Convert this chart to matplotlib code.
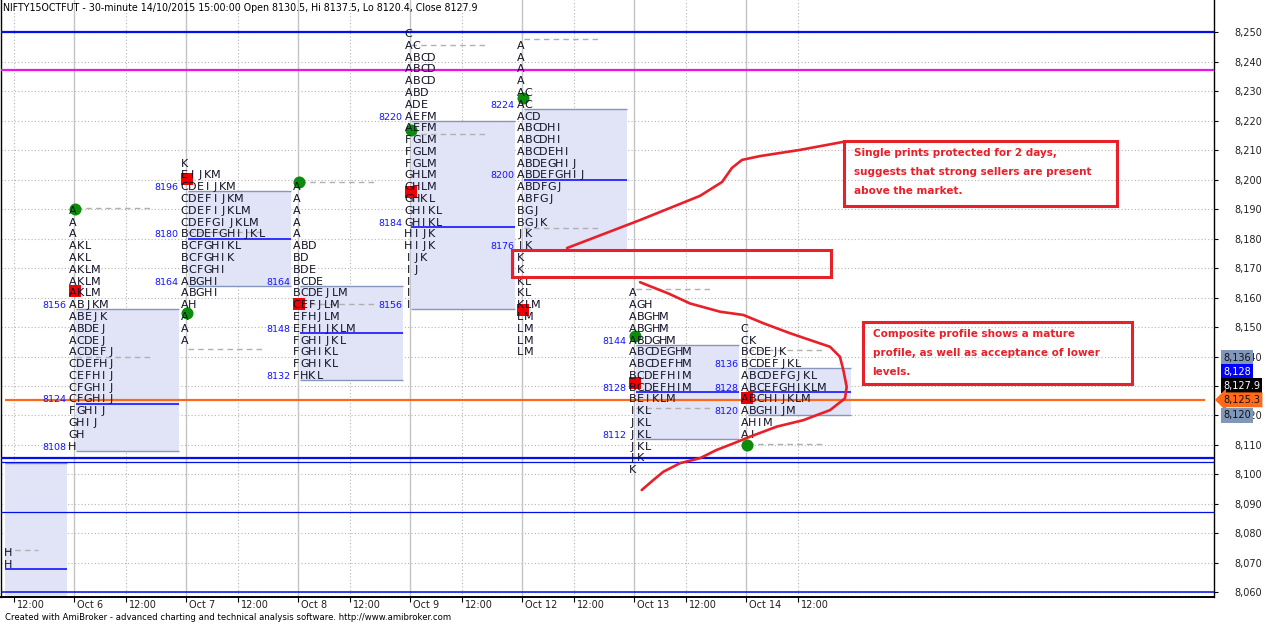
import matplotlib
matplotlib.use("Agg")
import matplotlib.pyplot as plt
import matplotlib.transforms as mtrans
from matplotlib.patches import Rectangle

W, H = 1267, 626

# trading days shown (x unit = one day, Oct 5 = 0)
days = ["Oct 5", "Oct 6", "Oct 7", "Oct 8", "Oct 9", "Oct 12", "Oct 13", "Oct 14"]

# TPO letters, one string per 4-point row, listed from the top row down
tpo_top = [8072, 8188, 8204, 8196, 8248, 8244, 8160, 8148]
tpo_oct5 = ["H", "H"]
tpo_oct6 = ["A", "A", "A", "AKL", "AKL", "AKLM", "AKLM", "AKLM", "ABJKM", "ABEJK",
            "ABDEJ", "ACDEJ", "ACDEFJ", "CDEFHJ", "CEFHIJ", "CFGHIJ", "CFGHIJ",
            "FGHIJ", "GHIJ", "GH", "H"]
tpo_oct7 = ["K", "EIJKM", "CDEIJKM", "CDEFIJKM", "CDEFIJKLM", "CDEFGIJKLM",
            "BCDEFGHIJKL", "BCFGHIKL", "BCFGHIK", "BCFGHI", "ABGHI", "ABGHI", "AH",
            "A", "A", "A"]
tpo_oct8 = ["A", "A", "A", "A", "A", "ABD", "BD", "BDE", "BCDE", "BCDEJLM", "CEFJLM",
            "EFHJLM", "EFHIJKLM", "FGHIJKL", "FGHIKL", "FGHIKL", "FHKL"]
tpo_oct9 = ["C", "AC", "ABCD", "ABCD", "ABCD", "ABD", "ADE", "AEFM", "AEFM", "FGLM",
            "FGLM", "FGLM", "GHLM", "GHLM", "GHKL", "GHIKL", "GHIKL", "HIJK", "HIJK",
            "IJK", "IJ", "I", "I", "I"]
tpo_oct12 = ["A", "A", "A", "A", "AC", "AC", "ACD", "ABCDHI", "ABCDHI", "ABCDEHI",
             "ABDEGHIJ", "ABDEFGHIJ", "ABDFGJ", "ABFGJ", "BGJ", "BGJK", "JK", "JK",
             "K", "K", "KL", "KL", "KLM", "LM", "LM", "LM", "LM"]
tpo_oct13 = ["A", "AGH", "ABGHM", "ABGHM", "ABDGHM", "ABCDEGHM", "ABCDEFHM",
             "BCDEFHIM", "BCDEFHIM", "BEIKLM", "IKL", "JKL", "JKL", "JKL", "JK", "K"]
tpo_oct14 = ["C", "CK", "BCDEJK", "BCDEFJKL", "ABCDEFGJKL", "ABCEFGHJKLM",
             "ABCHIJKLM", "ABGHIJM", "AHIM", "AI"]
tpo_rows = [tpo_oct5, tpo_oct6, tpo_oct7, tpo_oct8, tpo_oct9, tpo_oct12, tpo_oct13, tpo_oct14]

va_high = [8104, 8156, 8196, 8164, 8220, 8224, 8144, 8136]
poc = [8068, 8124, 8180, 8148, 8184, 8200, 8128, 8128]
va_low = [8040, 8108, 8164, 8132, 8156, 8176, 8112, 8120]

day_open = [None, 8190.1, 8154.6, 8199.3, 8216.8, 8227.6, 8147.0, 8110.0]
day_close = [None, 8162.3, 8200.2, 8157.7, 8195.9, 8155.8, 8130.9, 8125.8]
ref_levels = [[8074.3], [8190.4, 8139.9], [8182.3, 8142.5], [8199.3, 8157.7],
              [8245.7, 8215.4], [8247.6, 8183.5], [8162.9, 8122.6], [8142.2, 8110.2]]

blue_levels = [8250, 8105.7, 8104.2, 8087.2, 8060]
magenta_level = 8237.2
last_price = 8125.3

side_values = [8136, 8128, 8127.9, 8125.3, 8120]
side_text = ["8,136", "8,128", "8,127.9", "8,125.3", "8,120"]

note1 = ["Single prints protected for 2 days,",
         "suggests that strong sellers are present",
         "above the market."]
note2 = ["Composite profile shows a mature",
         "profile, as well as acceptance of lower",
         "levels."]

# hand drawn strokes (day, price)
stroke1_x = [5.402, 6.054, 6.589, 6.786, 6.875, 6.964, 7.125, 7.482, 7.866]
stroke1_y = [8176.8, 8186.3, 8194.5, 8199.2, 8204.0, 8206.7, 8208.0, 8210.1, 8212.8]
stroke2_x = [6.054, 6.306, 6.500, 6.768, 6.976, 7.154, 7.393, 7.571, 7.750, 7.839,
             7.869, 7.899, 7.884, 7.750, 7.512, 7.274, 7.036, 6.887, 6.738, 6.589,
             6.411, 6.262, 6.173, 6.069]
stroke2_y = [8165.2, 8161.4, 8158.0, 8155.2, 8154.1, 8151.3, 8147.9, 8145.6, 8143.3,
             8139.9, 8135.4, 8129.7, 8125.8, 8121.8, 8118.4, 8116.2, 8112.8, 8110.5,
             8108.3, 8105.5, 8103.8, 8100.9, 8098.1, 8094.7]

title = ("NIFTY15OCTFUT - 30-minute 14/10/2015 15:00:00 Open 8130.5, Hi 8137.5, "
         "Lo 8120.4, Close 8127.9")
footer = ("Created with AmiBroker - advanced charting and technical analysis software. "
          "http://www.amibroker.com")

RED = "#e8202a"
px = 1 / 112.0          # one screen pixel in day units
first_bar = 0.384       # first visible bar
pitch = 7.7 * px
xlim = (39 / 112, 1252 / 112)

fig = plt.figure(figsize=(W / 100, H / 100), dpi=100)
ax = fig.add_axes([1 / W, (H - 597) / H, 1213 / W, 597 / H])

# grid
for v in range(8060, 8251, 10):
    ax.axhline(v, color="#b4b4b4", lw=0.8, ls=(0, (1, 2)), zorder=0)
for i in range(len(days)):
    if i > 0:
        ax.axvline(i, color="#c4c4c4", lw=1, zorder=0)
    ax.axvline(i + 0.46, color="#b4b4b4", lw=0.8, ls=(0, (1, 2)), zorder=0)

# full width levels
for v, lw in zip(blue_levels, [1.6, 1.6, 0.9, 0.9, 1.1]):
    ax.axhline(v, color="#0010e8", lw=lw, zorder=4)
ax.axhline(magenta_level, color="#ee10ee", lw=1.6, zorder=4)
ax.hlines(last_price, first_bar, 1243 / 112, color="#ff6a1a", lw=1.6, zorder=4)

# profiles
for d, (top, rows) in enumerate(zip(tpo_top, tpo_rows)):
    bx0 = max(d + 1.5 * px, first_bar)
    bx1 = d + 0.935
    ax.add_patch(Rectangle((bx0, va_low[d]), bx1 - bx0, va_high[d] - va_low[d],
                           fc="#e1e3f7", ec="none", zorder=1))
    ax.hlines([va_low[d], va_high[d]], bx0, bx1, color="#8797bb", lw=1, zorder=3)
    ax.hlines(poc[d], bx0, bx1, color="#0000ff", lw=1.1, zorder=3)
    ax.hlines(ref_levels[d], bx0, d + 0.68, color="#b0b0b0", lw=1,
              linestyles=(0, (4, 3)), zorder=3)
    if d - 0.1 > xlim[0]:
        for v in (va_high[d], poc[d], va_low[d]):
            ax.text(d - 0.068, v + 0.4, str(v), ha="right", va="baseline",
                    fontsize=6.8, color="#1414ff", zorder=6, clip_on=True)
    if day_open[d] is not None:
        ax.scatter([d + px], [day_open[d]], s=75, marker="o", color="#0b8c0b",
                   zorder=5, linewidths=0)
        ax.scatter([d + px], [day_close[d]], s=70, marker="s", color="#f00000",
                   zorder=5, linewidths=0)
    x0 = d - 1.5 * px if d > first_bar else first_bar + 3.5 * px
    for r, s in enumerate(rows):
        price = top - 4 * r
        for k, ch in enumerate(s):
            ax.text(x0 + k * pitch, price + 0.4, ch, ha="center", va="baseline",
                    fontsize=8, color="#121226", zorder=6, clip_on=True)

# price labels on the right axis, stacked so they do not overlap
trans = mtrans.blended_transform_factory(ax.transAxes, ax.transData)
fills = ["#8097b9", "#0000ff", "#000000", "#ff6a1a", "#8097b9"]
inks = ["#101010", "white", "white", "#101010", "#101010"]
order = sorted(range(len(side_values)), key=lambda j: side_values[j])
prev = None
stacked = {}
for j in order:
    y = side_values[j] if prev is None else max(side_values[j], prev + 4.75)
    stacked[j] = y
    prev = y
for j in range(len(side_values)):
    style = "larrow,pad=0.25" if side_values[j] == last_price else "square,pad=0.25"
    ax.text(1 + 9 / 1213, stacked[j], side_text[j], transform=trans, ha="left",
            va="center", fontsize=7, color=inks[j], clip_on=False, zorder=10,
            bbox=dict(boxstyle=style, fc=fills[j], ec="none"))

# annotations
ax.add_patch(Rectangle((4.908, 8167.1), 7.759 - 4.908, 8176.1 - 8167.1,
                       fill=False, ec=RED, lw=2.2, zorder=8))
for bx, by0, bx1, by1, lines in [(7.875, 8191.2, 10.313, 8213.1, note1),
                                 (8.045, 8130.7, 10.446, 8151.7, note2)]:
    ax.add_patch(Rectangle((bx, by0), bx1 - bx, by1 - by0, fill=False, ec=RED,
                           lw=2.2, zorder=8))
    for k, line in enumerate(lines):
        ax.text(bx + 9.5 * px, by1 - 4.2 - 6.45 * k, line, ha="left", va="center",
                fontsize=7.5, fontweight="bold", color=RED, zorder=9)
ax.plot(stroke1_x, stroke1_y, color=RED, lw=1.9, zorder=8, solid_capstyle="round")
ax.plot(stroke2_x, stroke2_y, color=RED, lw=1.9, zorder=8, solid_capstyle="round",
        solid_joinstyle="round")

# axes
ax.spines["top"].set_visible(False)
for side in ("left", "right"):
    ax.spines[side].set_color("black")
    ax.spines[side].set_linewidth(1)
ax.spines["bottom"].set_linewidth(1.4)
ax.yaxis.tick_right()
ax.set_yticks(range(8060, 8251, 10))
ax.set_yticklabels([f"{v:,}" for v in range(8060, 8251, 10)])
ax.tick_params(axis="y", direction="out", length=3, width=0.8, pad=12,
               labelsize=7, labelcolor="#202020")

xt, xl = [], []
for i, name in enumerate(days):
    xt += [i, i + 0.46]
    xl += [name, "12:00"]
ax.set_xticks(xt)
ax.set_xticklabels(xl)
ax.tick_params(axis="x", direction="out", length=3.6, width=0.8, pad=-1.5,
               labelsize=7, labelcolor="#202020")
shift = mtrans.ScaledTranslation(3 / 100, 0, fig.dpi_scale_trans)
for lab in ax.get_xticklabels():
    lab.set_horizontalalignment("left")
    lab.set_transform(lab.get_transform() + shift)

# limits last, set_xticks would widen them
ax.set_xlim(*xlim)
ax.set_ylim(8058.4, 8260.96)

fig.text(3 / W, 1 - 8 / H, title, fontsize=6.85, va="center", ha="left")
fig.text(5 / W, 1 - 618 / H, footer, fontsize=6.1, va="center", ha="left")

fig.savefig("out.png", dpi=100, facecolor="white")
